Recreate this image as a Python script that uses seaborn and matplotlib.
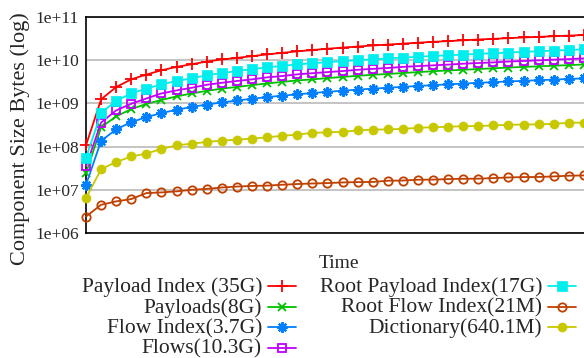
import numpy as np
import pandas as pd
import matplotlib
matplotlib.use("Agg")
import matplotlib.pyplot as plt
import seaborn as sns
from matplotlib.lines import Line2D
from matplotlib.ticker import FixedLocator, FuncFormatter, LogLocator, NullFormatter

# time steps (the x axis has no tick labels)
steps = list(range(34))

# component sizes
payload_index_g = [0.107, 1.24, 2.39, 3.61, 4.64, 5.85, 6.98, 8.07, 9.3, 10.4,
                   11.3, 12.4, 13.6, 14.8, 16.0, 17.2, 18.4, 19.6, 20.7, 21.9,
                   23.0, 24.2, 25.4, 26.6, 27.7, 28.9, 30.1, 31.2, 32.4, 33.6,
                   34.7, 35.9, 37.1, 38.3]
payloads_g = [0.024, 0.28, 0.50, 0.74, 0.97, 1.2, 1.45, 1.7, 1.95, 2.2,
              2.4, 2.65, 2.9, 3.15, 3.4, 3.6, 3.85, 4.1, 4.35, 4.6,
              4.8, 5.05, 5.3, 5.55, 5.8, 6.0, 6.25, 6.5, 6.75, 7.0,
              7.2, 7.45, 7.7, 7.95]
flow_index_g = [0.013, 0.136, 0.25, 0.37, 0.48, 0.6, 0.71, 0.83, 0.94, 1.05,
                1.17, 1.28, 1.4, 1.51, 1.62, 1.74, 1.85, 1.97, 2.08, 2.2,
                2.3, 2.42, 2.53, 2.65, 2.76, 2.88, 2.99, 3.1, 3.22, 3.33,
                3.45, 3.56, 3.68, 3.8]
flows_g = [0.035, 0.36, 0.69, 0.98, 1.3, 1.7, 2.0, 2.3, 2.7, 3.0,
           3.3, 3.6, 4.0, 4.3, 4.7, 5.0, 5.3, 5.6, 6.0, 6.3,
           6.6, 7.0, 7.3, 7.6, 7.9, 8.3, 8.6, 8.9, 9.3, 9.6,
           9.9, 10.3, 10.6, 11.0]
root_payload_index_g = [0.055, 0.60, 1.15, 1.7, 2.2, 2.75, 3.3, 3.8, 4.5, 5.0,
                        5.6, 6.2, 6.8, 7.4, 8.0, 8.5, 9.0, 9.5, 10.0, 10.5,
                        11.0, 11.5, 12.0, 12.5, 13.0, 13.5, 14.0, 14.5, 15.0, 15.6,
                        16.1, 16.7, 17.2, 17.8]
root_flow_index_m = [2.4, 4.5, 5.4, 6.1, 8.4, 8.7, 9.2, 10.0, 10.5, 11.3,
                     11.9, 12.3, 12.5, 13.1, 13.6, 14.0, 14.3, 14.8, 15.1, 15.2,
                     16.2, 16.4, 17.1, 17.2, 17.7, 18.0, 18.1, 18.7, 19.3, 19.7,
                     19.8, 20.4, 21.2, 21.5]
dictionary_m = [6.4, 30, 44, 59, 69, 88, 107, 117, 128, 138,
                145, 153, 164, 178, 190, 208, 214, 220, 236, 248,
                250, 258, 272, 281, 287, 297, 300, 308, 320, 324,
                327, 337, 356, 360]

labels = ["Payload Index (35G)", "Payloads(8G)", "Flow Index(3.7G)", "Flows(10.3G)",
          "Root Payload Index(17G)", "Root Flow Index(21M)", "Dictionary(640.1M)"]
values = [np.array(payload_index_g) * 1e9, np.array(payloads_g) * 1e9,
          np.array(flow_index_g) * 1e9, np.array(flows_g) * 1e9,
          np.array(root_payload_index_g) * 1e9, np.array(root_flow_index_m) * 1e6,
          np.array(dictionary_m) * 1e6]

# gnuplot-ish styles
styles = [
    dict(color="#ff0000", marker="+", ms=8, mew=1.3, mfc="#ff0000"),
    dict(color="#00c000", marker="x", ms=6, mew=1.3, mfc="#00c000"),
    dict(color="#0080ff", marker=(8, 2, 0), ms=7.5, mew=1.6, mfc="#0080ff"),
    dict(color="#c000ff", marker="s", ms=6, mew=1.3, mfc="none"),
    dict(color="#00eeee", marker="s", ms=7, mew=0.5, mfc="#00eeee"),
    dict(color="#c04000", marker="o", ms=6, mew=1.3, mfc="none"),
    dict(color="#c8c800", marker="o", ms=6.5, mew=0.5, mfc="#c8c800"),
]

sns.set_theme(style="white")
plt.rcParams["font.family"] = ["Liberation Serif", "DejaVu Serif"]

W, H = 584, 358
fig = plt.figure(figsize=(W / 100, H / 100), dpi=100)
ax = fig.add_axes([86 / W, 125 / H, 513 / W, 216 / H])

for lab, vals, st in zip(labels, values, styles):
    df = pd.DataFrame({"step": steps, "size": vals})
    sns.lineplot(df, x="step", y="size", ax=ax, color=st["color"], lw=1.3,
                 marker=st["marker"], markersize=st["ms"], mew=st["mew"],
                 mec=st["color"], mfc=st["mfc"], clip_on=False, zorder=3)

ax.set_yscale("log")
ax.set_ylim(1e6, 1e11)
ax.set_xlim(0, 34)
ax.set_xticks([])
ax.set_xlabel("")
ax.set_ylabel("")
ax.yaxis.set_major_locator(FixedLocator([1e6, 1e7, 1e8, 1e9, 1e10, 1e11]))
ax.yaxis.set_major_formatter(FuncFormatter(lambda v, p: "1e+%02d" % round(np.log10(v))))
ax.yaxis.set_minor_locator(LogLocator(base=10, subs=range(2, 10)))
ax.yaxis.set_minor_formatter(NullFormatter())
ax.tick_params(axis="y", which="major", direction="in", length=6, width=1,
               color="black", right=True, labelsize=12.5, pad=5)
ax.tick_params(axis="y", which="minor", direction="in", length=3, width=0.8,
               color="black", right=True)
ax.yaxis.grid(True, which="major", color="#b4b4b4", lw=1.1, zorder=0)
ax.xaxis.grid(False)
for s in ax.spines.values():
    s.set_color("black")
    s.set_linewidth(1.2)

fig.text(20 / W, 1 - 139 / H, "Component Size Bytes (log)", rotation=90,
         ha="center", va="center", fontsize=16)
fig.text(338.5 / W, 1 - 268 / H, "Time", ha="center", va="baseline", fontsize=14)

# key in gnuplot layout: text right aligned, sample on the right
text_right = [262, 542]
baselines = [292, 312.5, 333, 353.5]
for k, (lab, st) in enumerate(zip(labels, styles)):
    col, row = (0, k) if k < 4 else (1, k - 4)
    tx = text_right[col]
    yb = baselines[row]
    yl = 1 - (yb - 6) / H
    fig.text(tx / W, 1 - yb / H, lab, ha="right", va="baseline", fontsize=15.5)
    x0, x1 = tx + 6, tx + 34
    fig.add_artist(Line2D([x0 / W, x1 / W], [yl, yl], color=st["color"], lw=1.3,
                          transform=fig.transFigure))
    fig.add_artist(Line2D([(x0 + x1) / 2 / W], [yl], marker=st["marker"],
                          markersize=st["ms"], mew=st["mew"], mec=st["color"],
                          mfc=st["mfc"], color=st["color"], transform=fig.transFigure))

fig.savefig("out.png", dpi=100)
